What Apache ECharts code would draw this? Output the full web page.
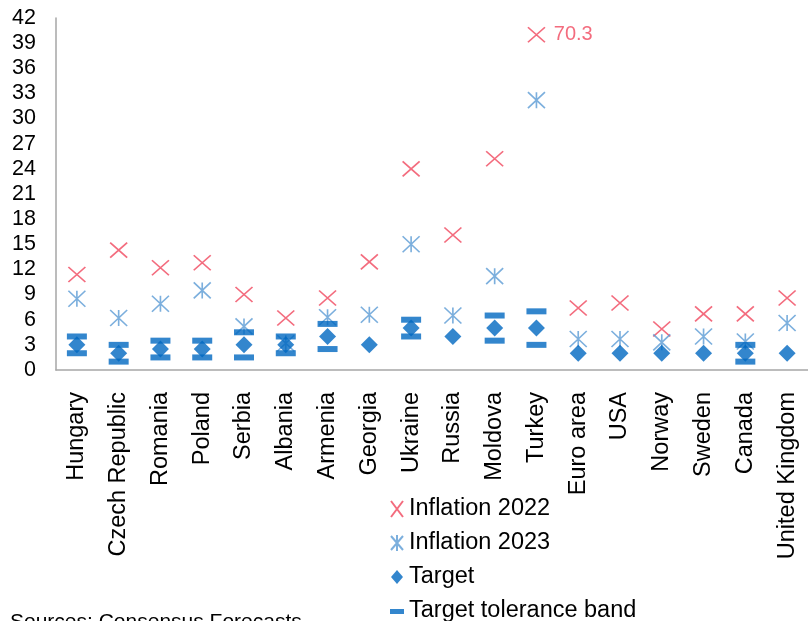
<!DOCTYPE html>
<html>
<head>
<meta charset="utf-8">
<script src="https://cdn.jsdelivr.net/npm/echarts@6/dist/echarts.min.js"></script>
<style>
  html, body { margin: 0; padding: 0; background: #ffffff; }
  #chart { width: 808px; height: 621px; }
</style>
</head>
<body>
<div id="chart"></div>
<script>
// Inflation forecasts vs. central bank targets (%)
var countries = ['Hungary', 'Czech Republic', 'Romania', 'Poland', 'Serbia', 'Albania',
  'Armenia', 'Georgia', 'Ukraine', 'Russia', 'Moldova', 'Turkey', 'Euro area', 'USA',
  'Norway', 'Sweden', 'Canada', 'United Kingdom'];
var inflation2022 = [11.4, 14.3, 12.2, 12.8, 9.0, 6.2, 8.6, 12.9, 24.0, 16.1, 25.2, 70.3,
  7.4, 8.0, 4.9, 6.7, 6.7, 8.6];
var inflation2023 = [8.5, 6.2, 7.9, 9.5, 5.2, 3.2, 6.3, 6.6, 15.0, 6.5, 11.2, 32.2,
  3.7, 3.7, 3.3, 4.0, 3.4, 5.6];
var target = [3, 2, 2.5, 2.5, 3, 3, 4, 3, 5, 4, 5, 5, 2, 2, 2, 2, 2, 2];
var bandLow = [2, 1, 1.5, 1.5, 1.5, 2, 2.5, null, 4, null, 3.5, 3, null, null, null, null, 1, null];
var bandHigh = [4, 3, 3.5, 3.5, 4.5, 4, 5.5, null, 6, null, 6.5, 7, null, null, null, null, 3, null];
var yTicks = { min: 0, max: 42, interval: 3 };
// values above this are drawn at the top of the scale and labelled with their real value
var OFF_SCALE_CAP = 40;

var RED = '#F0475E';
var LIGHT_BLUE = '#5B9BD5';
var BLUE = '#0068C0';
var FONT = 'Liberation Sans, Arial, sans-serif';

var crossPath = 'path://M0,0L10,10M10,0L0,10';
var asteriskPath = 'path://M5,0L5,10M0,0L10,10M10,0L0,10';
var legendCross = 'path://M0,0M14,16M1,0L13,16M13,0L1,16';
var legendAsterisk = 'path://M0,0M14,16M7,0L7,16M1,1L13,15M13,1L1,15';
var legendDiamond = 'path://M0,0M14,16M7,1L13,8L7,15L1,8Z';
var legendDash = 'path://M0,0M14,16M0,6H14V11H0Z';

var data2022 = inflation2022.map(function (v, i) {
  if (v > OFF_SCALE_CAP) {
    return {
      value: [i, OFF_SCALE_CAP],
      label: { show: true, formatter: String(v) }
    };
  }
  return [i, v];
});
var data2023 = inflation2023.map(function (v, i) { return [i, v]; });
var dataTarget = target.map(function (v, i) { return [i, v]; });
var dataBand = [];
bandLow.forEach(function (v, i) { if (v != null) dataBand.push([i, v]); });
bandHigh.forEach(function (v, i) { if (v != null) dataBand.push([i, v]); });

var chart = echarts.init(document.getElementById('chart'), null, { renderer: 'canvas' });
chart.setOption({
  animation: false,
  backgroundColor: '#ffffff',
  textStyle: { fontFamily: FONT },
  grid: { left: 56, top: 18, width: 754, height: 352, containLabel: false },
  xAxis: {
    type: 'category',
    data: countries,
    boundaryGap: true,
    axisLine: { show: true, lineStyle: { color: '#A6A6A6', width: 1.5 } },
    axisTick: { show: false },
    splitLine: { show: false },
    axisLabel: {
      interval: 0, rotate: 90, margin: 22,
      color: '#000000', fontSize: 23.5, fontFamily: FONT
    }
  },
  yAxis: {
    type: 'value',
    min: yTicks.min, max: yTicks.max, interval: yTicks.interval,
    axisLine: { show: true, lineStyle: { color: '#A6A6A6', width: 1.5 } },
    axisTick: { show: false },
    splitLine: { show: false },
    axisLabel: { color: '#000000', fontSize: 21.5, margin: 20, fontFamily: FONT }
  },
  legend: {
    orient: 'vertical',
    left: 389, top: 497, padding: 0,
    height: 140,
    itemWidth: 14, itemHeight: 16, itemGap: 10,
    selectedMode: false,
    textStyle: { color: '#000000', fontSize: 23.5, fontFamily: FONT },
    data: [
      { name: 'Inflation 2022', icon: legendCross },
      { name: 'Inflation 2023', icon: legendAsterisk },
      { name: 'Target', icon: legendDiamond },
      { name: 'Target tolerance band', icon: legendDash }
    ]
  },
  graphic: [{
    type: 'text',
    left: 10, top: 612,
    style: {
      text: 'Sources: Consensus Forecasts',
      fill: '#000000', fontSize: 21, fontFamily: FONT
    }
  }],
  series: [
    {
      name: 'Inflation 2022', type: 'scatter',
      symbol: crossPath, symbolSize: [17, 15],
      itemStyle: { color: 'rgba(0,0,0,0)', borderColor: RED, borderWidth: 1.6 },
      label: { position: 'right', distance: 8, color: RED, fontSize: 20, fontFamily: FONT },
      emphasis: { disabled: true },
      data: data2022, z: 2
    },
    {
      name: 'Inflation 2023', type: 'scatter',
      symbol: asteriskPath, symbolSize: [17, 16],
      itemStyle: { color: 'rgba(0,0,0,0)', borderColor: LIGHT_BLUE, borderWidth: 1.6 },
      emphasis: { disabled: true },
      data: data2023, z: 3
    },
    {
      name: 'Target', type: 'scatter',
      symbol: 'diamond', symbolSize: [17, 17],
      itemStyle: { color: BLUE },
      emphasis: { disabled: true },
      data: dataTarget, z: 4
    },
    {
      name: 'Target tolerance band', type: 'scatter',
      symbol: 'rect', symbolSize: [20, 6],
      itemStyle: { color: BLUE },
      emphasis: { disabled: true },
      data: dataBand, z: 5
    }
  ]
});
</script>
</body>
</html>
